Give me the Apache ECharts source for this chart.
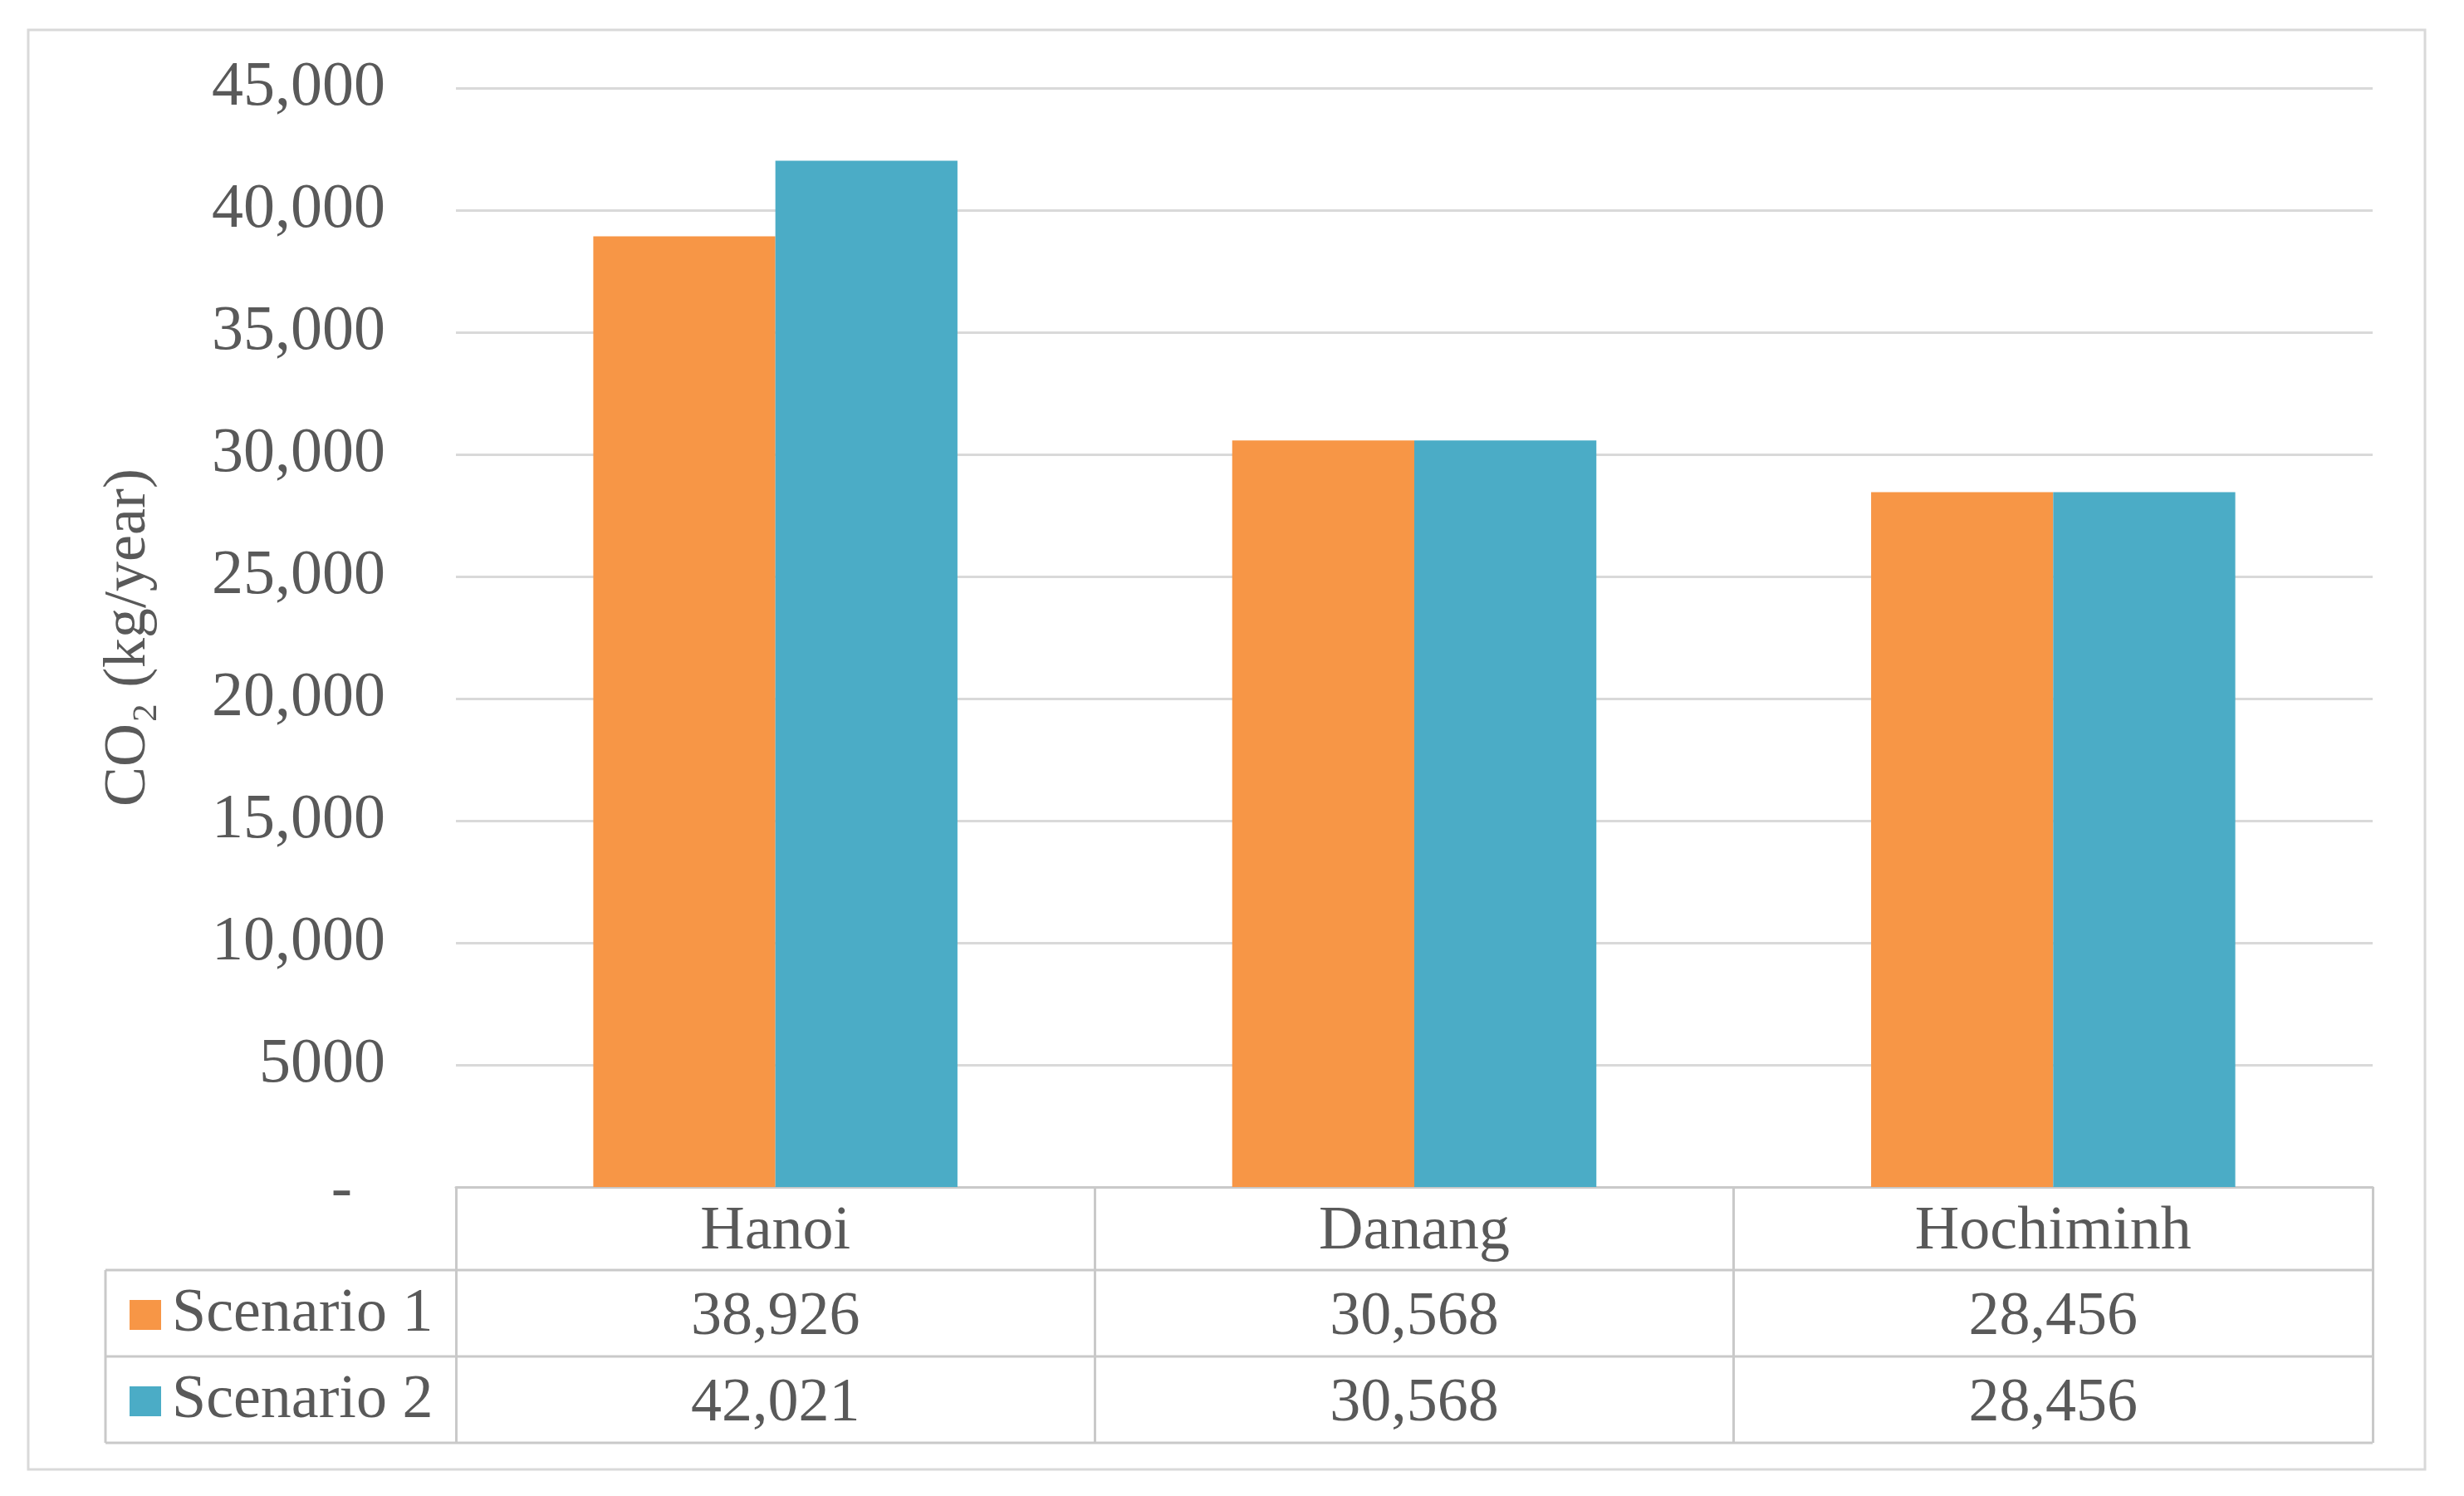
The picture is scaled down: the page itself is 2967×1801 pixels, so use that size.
<!DOCTYPE html>
<html>
<head>
<meta charset="utf-8">
<script src="https://cdn.jsdelivr.net/npm/echarts@6/dist/echarts.min.js"></script>
<style>
  html, body { margin: 0; padding: 0; background: #fff; }
  #chart { width: 2967px; height: 1801px; }
</style>
</head>
<body>
<div id="chart"></div>
<script>
// 数据
var cities = ['Hanoi', 'Danang', 'Hochiminh'];
var scenarioNames = ['Scenario 1', 'Scenario 2'];
var scenario1 = [38926, 30568, 28456];
var scenario2 = [42021, 30568, 28456];
var yTicks = [0, 5000, 10000, 15000, 20000, 25000, 30000, 35000, 40000, 45000];

var colors = ['#F79646', '#4BACC6'];
var textColor = '#595959';
var font = 'Liberation Serif';
var lineGray = '#c9c9c9';

// 布局
var gridLeft = 549, gridRight = 110, gridTop = 106, gridBottom = 372;
var axisY = 1801 - gridBottom;
var rowH = 104;
var headH = 100;
var tableLeft = 127;
var tableRight = 2967 - gridRight;

var chart = echarts.init(document.getElementById('chart'));

function fmt(v) {
    if (v === 0) return '{d|-}';
    if (v < 10000) return String(v);
    return v.toLocaleString('en-US');
}

var option = {
    backgroundColor: '#fff',
    animation: false,
    color: colors,
    grid: { left: gridLeft, right: gridRight, top: gridTop, bottom: gridBottom },
    legend: {
        orient: 'vertical',
        left: 151,
        top: axisY + headH + rowH / 2 - 40,
        itemWidth: 38,
        itemHeight: 36,
        itemGap: 30,
        icon: 'rect',
        data: scenarioNames,
        textStyle: {
            fontFamily: font, fontSize: 74, color: textColor,
            padding: [0, 0, 0, 8]
        }
    },
    xAxis: {
        type: 'category',
        data: cities,
        axisLine: { show: true, lineStyle: { color: lineGray, width: 3 } },
        axisTick: {
            show: true, interval: 0, length: headH + rowH * 2,
            lineStyle: { color: lineGray, width: 3 }
        },
        axisLabel: {
            interval: 0, margin: 55, verticalAlign: 'middle',
            fontFamily: font, fontSize: 74, color: textColor
        }
    },
    yAxis: {
        type: 'value',
        min: 0, max: 45000, interval: 5000,
        name: 'CO₂ (kg/year)',
        nameLocation: 'middle',
        nameRotate: 90,
        nameGap: 394,
        nameTextStyle: { fontFamily: font, fontSize: 72, color: textColor, verticalAlign: 'middle' },
        axisLine: { show: false },
        axisTick: { show: false },
        axisLabel: {
            margin: 85, fontFamily: font, fontSize: 76, color: textColor,
            formatter: fmt,
            rich: {
                d: { fontFamily: font, fontSize: 76, color: textColor, padding: [10, 40, 0, 0] }
            }
        },
        splitLine: { lineStyle: { color: '#d9d9d9', width: 3 } }
    },
    series: [
        { name: scenarioNames[0], type: 'bar', data: scenario1, barGap: '0%', barCategoryGap: '43%' },
        { name: scenarioNames[1], type: 'bar', data: scenario2, barGap: '0%', barCategoryGap: '43%' }
    ]
};
chart.setOption(option);

// 数据表：线与数值
var g = [];
g.push({
    type: 'rect', shape: { x: 34, y: 36, width: 2886, height: 1733 },
    style: { fill: 'none', stroke: '#d9d9d9', lineWidth: 3 }, z: 0
});
[axisY + headH, axisY + headH + rowH, axisY + headH + rowH * 2].forEach(function (y) {
    g.push({
        type: 'line', shape: { x1: tableLeft, y1: y, x2: tableRight, y2: y },
        style: { stroke: lineGray, lineWidth: 3 }
    });
});
g.push({
    type: 'line', shape: { x1: tableLeft, y1: axisY + headH, x2: tableLeft, y2: axisY + headH + rowH * 2 },
    style: { stroke: lineGray, lineWidth: 3 }
});
[scenario1, scenario2].forEach(function (vals, r) {
    vals.forEach(function (v, i) {
        var x = chart.convertToPixel({ xAxisIndex: 0 }, cities[i]);
        g.push({
            type: 'text', x: x, y: axisY + headH + rowH * r + rowH / 2 + 6,
            style: {
                text: v.toLocaleString('en-US'), fontFamily: font, fontSize: 74,
                fill: textColor, align: 'center', verticalAlign: 'middle'
            }
        });
    });
});
chart.setOption({ graphic: g });
</script>
</body>
</html>
